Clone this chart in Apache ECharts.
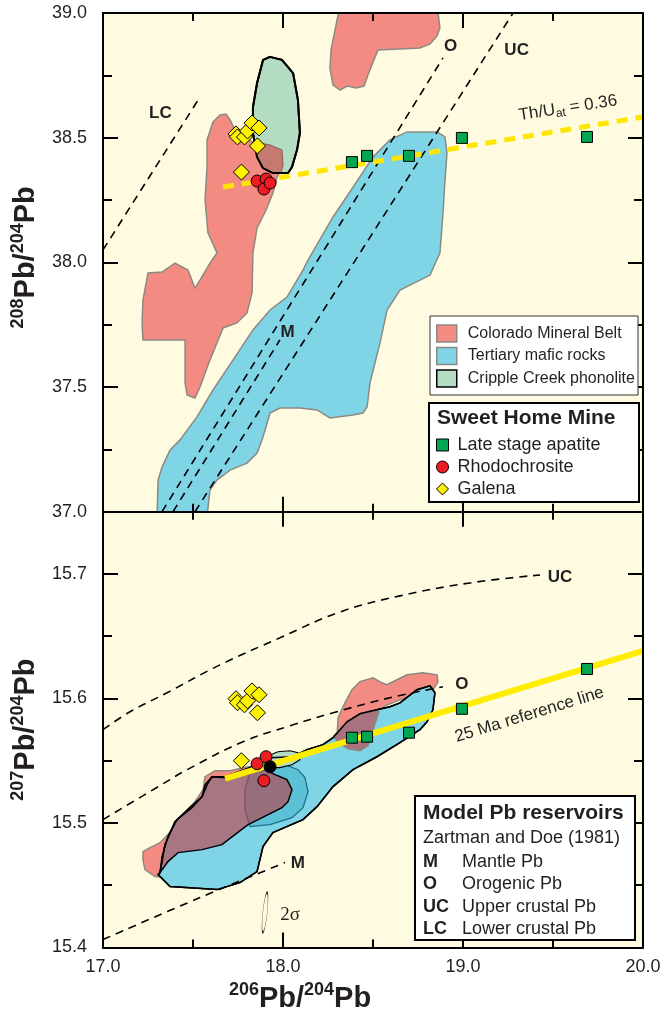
<!DOCTYPE html>
<html><head><meta charset="utf-8">
<script src="https://cdn.jsdelivr.net/npm/echarts@6/dist/echarts.min.js"></script>
<style>html,body{margin:0;padding:0;background:#fff}#c{width:667px;height:1014px}</style>
</head><body><div id="c"></div>
<script>
// ================= DATA =================
// axis tick labels
const xTickLabels = ['17.0', '18.0', '19.0', '20.0'];
const yTopTickLabels = ['37.0', '37.5', '38.0', '38.5', '39.0'];
const yBotTickLabels = ['15.4', '15.5', '15.6', '15.7'];

// Sweet Home Mine samples: 206Pb/204Pb, 208Pb/204Pb, 207Pb/204Pb
const apatite206 = [18.383, 18.467, 18.700, 18.994, 19.689];
const apatite208 = [38.402, 38.427, 38.427, 38.499, 38.503];
const apatite207 = [15.5685, 15.5693, 15.5725, 15.5917, 15.6237];

const rhodo206 = [17.856, 17.906, 17.894, 17.928];
const rhodo208 = [38.326, 38.334, 38.294, 38.318];
const rhodo206b = [17.856, 17.906, 17.894];
const rhodo207 = [15.5476, 15.5532, 15.5340];
const black206 = [17.928];
const black207 = [15.5452];

const galena206 = [17.739, 17.747, 17.769, 17.786, 17.803, 17.828, 17.858, 17.867];
const galena208 = [38.515, 38.503, 38.362, 38.503, 38.527, 38.559, 38.467, 38.539];
const galena207 = [15.5998, 15.5966, 15.5500, 15.5949, 15.5981, 15.6061, 15.5885, 15.6030];

// ---- upper panel fields (206/204, 208/204) ----
const cmbTopBlob = [[18.317,39.03],[18.289,38.932],[18.267,38.852],[18.261,38.779],[18.278,38.711],[18.317,38.691],[18.356,38.707],[18.406,38.699],[18.450,38.707],[18.472,38.751],[18.500,38.803],[18.528,38.852],[18.650,38.856],[18.761,38.860],[18.817,38.876],[18.856,38.908],[18.872,38.940],[18.856,39.03]];
const cmbTopMain = [[17.611,38.563],[17.650,38.591],[17.683,38.595],[17.706,38.571],[17.733,38.531],[17.828,38.483],[17.928,38.471],[17.994,38.451],[18.000,38.390],[17.967,38.342],[17.944,38.278],[17.906,38.210],[17.856,38.138],[17.833,38.038],[17.828,37.877],[17.800,37.797],[17.744,37.757],[17.667,37.737],[17.594,37.608],[17.539,37.500],[17.511,37.456],[17.467,37.468],[17.456,37.516],[17.456,37.689],[17.222,37.689],[17.217,37.757],[17.222,37.849],[17.250,37.957],[17.328,37.961],[17.400,37.997],[17.472,37.969],[17.511,37.897],[17.539,37.929],[17.594,37.997],[17.633,38.038],[17.583,38.118],[17.567,38.250],[17.578,38.382],[17.578,38.491]];
const mafTop = [[18.689,38.523],[18.856,38.523],[18.900,38.503],[18.911,38.439],[18.900,38.330],[18.889,38.198],[18.872,38.038],[18.817,37.949],[18.761,37.929],[18.650,37.889],[18.578,37.809],[18.539,37.677],[18.483,37.516],[18.467,37.420],[18.444,37.396],[18.389,37.388],[18.261,37.376],[18.189,37.408],[18.094,37.416],[17.983,37.416],[17.928,37.396],[17.889,37.300],[17.856,37.235],[17.800,37.195],[17.706,37.167],[17.633,37.127],[17.594,37.087],[17.578,36.98],[17.300,36.98],[17.306,37.127],[17.328,37.179],[17.372,37.247],[17.428,37.288],[17.522,37.380],[17.611,37.488],[17.722,37.608],[17.833,37.729],[17.928,37.809],[18.022,37.861],[18.111,37.969],[18.139,38.009],[18.278,38.182],[18.389,38.302],[18.500,38.423],[18.594,38.491]];
const ccpTop = [[17.928,38.824],[17.994,38.812],[18.056,38.759],[18.083,38.651],[18.094,38.519],[18.078,38.451],[18.050,38.382],[18.028,38.358],[17.944,38.358],[17.889,38.378],[17.856,38.423],[17.833,38.519],[17.833,38.623],[17.856,38.719],[17.889,38.812]];
const overlapTop = [[17.833,38.483],[17.928,38.471],[17.994,38.451],[18.000,38.390],[17.989,38.358],[17.944,38.358],[17.889,38.378],[17.856,38.423]];

// ---- lower panel fields (206/204, 207/204) ----
const cmbBotLeft = [[17.222,15.4770],[17.261,15.4802],[17.317,15.4842],[17.361,15.4907],[17.428,15.5043],[17.511,15.5171],[17.556,15.5268],[17.567,15.5372],[17.622,15.5420],[17.706,15.5420],[17.806,15.5452],[17.883,15.5468],[18.011,15.5444],[18.050,15.5308],[18.028,15.5147],[17.928,15.5067],[17.761,15.4947],[17.539,15.4802],[17.400,15.4722],[17.344,15.4562],[17.289,15.4570],[17.233,15.4626],[17.222,15.4706]];
const cmbBotRight = [[18.300,15.5693],[18.306,15.5845],[18.344,15.5965],[18.383,15.6070],[18.428,15.6134],[18.500,15.6166],[18.550,15.6126],[18.578,15.6110],[18.633,15.6150],[18.689,15.6190],[18.778,15.6206],[18.856,15.6190],[18.861,15.6134],[18.833,15.6070],[18.761,15.6046],[18.650,15.5989],[18.567,15.5941],[18.528,15.5893],[18.511,15.5813],[18.494,15.5725],[18.472,15.5629],[18.428,15.5588],[18.361,15.5604],[18.317,15.5653]];
const mafBot = [[17.317,15.4602],[17.344,15.4826],[17.400,15.5011],[17.483,15.5123],[17.550,15.5211],[17.578,15.5308],[17.606,15.5372],[17.678,15.5372],[17.817,15.5444],[17.928,15.5524],[18.056,15.5532],[18.133,15.5588],[18.222,15.5629],[18.278,15.5685],[18.356,15.5813],[18.428,15.5877],[18.522,15.5909],[18.594,15.5933],[18.650,15.5965],[18.744,15.6070],[18.817,15.6102],[18.844,15.6046],[18.833,15.5909],[18.800,15.5813],[18.761,15.5749],[18.650,15.5645],[18.522,15.5532],[18.389,15.5428],[18.278,15.5292],[18.189,15.5131],[18.111,15.5027],[17.944,15.4923],[17.889,15.4810],[17.856,15.4610],[17.761,15.4521],[17.633,15.4465],[17.372,15.4489],[17.306,15.4586]];
const mafBotInner = [[17.817,15.5412],[17.900,15.5444],[18.011,15.5468],[18.083,15.5428],[18.122,15.5364],[18.139,15.5251],[18.111,15.5123],[18.050,15.5043],[17.928,15.4987],[17.817,15.4971],[17.789,15.5107],[17.789,15.5268]];
const overlapBotLeft = [[17.678,15.5364],[17.817,15.5444],[17.900,15.5428],[17.956,15.5388],[18.022,15.5348],[18.050,15.5268],[18.028,15.5171],[17.994,15.5123],[17.917,15.5067],[17.806,15.4987],[17.733,15.4907],[17.661,15.4826],[17.550,15.4786],[17.417,15.4762],[17.361,15.4690],[17.317,15.4602],[17.328,15.4730],[17.361,15.4891],[17.411,15.5027],[17.494,15.5123],[17.550,15.5211],[17.567,15.5308],[17.606,15.5372]];
const overlapBotRight = [[18.283,15.5701],[18.294,15.5669],[18.317,15.5637],[18.361,15.5596],[18.428,15.5580],[18.472,15.5620],[18.494,15.5709],[18.511,15.5797],[18.533,15.5893],[18.522,15.5909],[18.428,15.5877],[18.356,15.5813]];
const ccpBot = [[17.917,15.5540],[17.972,15.5572],[18.039,15.5580],[18.083,15.5564],[18.094,15.5508],[18.050,15.5468],[17.983,15.5444],[17.928,15.5444]];

// ---- model Pb growth curves (Zartman and Doe 1981) ----
const lcTop = [[17.0, 38.05], [17.539, 38.663]];
const oTop = [[17.328, 37.0], [18.889, 38.820]];
const ucTop = [[17.511, 37.0], [19.278, 39.0]];
const mTop = [[17.389, 37.0], [17.983, 37.689]];
const ucBot = [[17.0,15.5749],[17.15,15.5893],[17.356,15.6046],[17.65,15.6270],[17.983,15.6487],[18.317,15.6695],[18.65,15.6824],[19.039,15.6928],[19.428,15.6992]];
const oBot = [[17.0,15.5027],[17.344,15.5324],[17.467,15.5428],[17.778,15.5653],[18.039,15.5781],[18.278,15.5885],[18.594,15.6006],[18.889,15.6094]];
const mBot = [[17.0,15.4064],[17.539,15.4401],[18.011,15.4682]];

// reference lines
const thuLine = [[17.667, 38.302], [20.0, 38.583]];
const refLine25 = [[17.678, 15.5356], [20.0, 15.6383]];

// annotations (anchor in data units)
const topLabelText = ['LC', 'O', 'UC', 'M'];
const topLabelPos = [[17.319, 38.596], [18.931, 38.865], [19.298, 38.849], [18.025, 37.719]];
const thuLabelPos = [[19.583, 38.619]];
const botLabelText = ['UC', 'O', 'M'];
const botLabelPos = [[19.539, 15.6976], [18.994, 15.6110], [18.083, 15.4674]];
const refLabelPos = [[19.369, 15.5869]];
const sigmaPos = [[17.900, 15.4281]];
const sigmaLabelPos = [[18.039, 15.4257]];

const reservoirCodes = ['M', 'O', 'UC', 'LC'];
const reservoirNames = ['Mantle Pb', 'Orogenic Pb', 'Upper crustal Pb', 'Lower crustal Pb'];

// ================= STYLE =================
const FONT = '"Liberation Sans", Arial, Helvetica, sans-serif';
const INK = '#231f20';
const CREAM = '#fffbe1';
const SALMON = '#f48b82';
const BLUE = '#7fd4e6';
const GREEN = '#b4dcc2';
const OVERLAP_TOP = '#c47a70';
const FIELD_EDGE = '#8a8a82';
const TEAL = '#5cc0d6';
const TEAL_EDGE = '#1d6f8c';
const MAUVE = 'rgba(190,60,70,0.62)';
const MAUVE_SOLID = '#a8727f';
const C_AP = '#00a651', C_RH = '#ed1c24', C_GA = '#fff200';

function poly(name, xi, yi, pts, style, z) {
  return { type: 'custom', name, xAxisIndex: xi, yAxisIndex: yi, data: pts, z, silent: true, clip: true,
    renderItem(params, api) {
      if (params.dataIndex !== 0) return null;
      return { type: 'polygon', shape: { points: pts.map(p => api.coord(p)) }, style: Object.assign({}, style) };
    } };
}
function line(name, xi, yi, data, ls, z, smooth) {
  return { type: 'line', name, xAxisIndex: xi, yAxisIndex: yi, data, symbol: 'none', showSymbol: false,
    silent: true, z, smooth: smooth || false, clip: true, lineStyle: ls };
}
function scat(name, xi, yi, xs, ys, symbol, size, color, z) {
  return { type: 'scatter', name, xAxisIndex: xi, yAxisIndex: yi, data: xs.map((x, i) => [x, ys[i]]),
    symbol, symbolSize: size, z, silent: true,
    itemStyle: { color, borderColor: '#000', borderWidth: 1, opacity: 1 } };
}
function texts(name, xi, yi, pos, txt, style, rot) {
  return { type: 'custom', name, xAxisIndex: xi, yAxisIndex: yi, data: pos, z: 4, silent: true, clip: false,
    renderItem(params, api) {
      const p = api.coord([api.value(0), api.value(1)]);
      return { type: 'text', x: p[0], y: p[1], rotation: rot || 0,
        style: Object.assign({ text: txt[params.dataIndex], fill: INK, align: 'center', verticalAlign: 'middle',
          fontFamily: FONT, fontSize: 17, fontWeight: 'bold' }, style) };
    } };
}
const dash = { color: '#000', width: 1.6, type: [8, 6] };

function xAx(grid, pos, showLabel) {
  return { type: 'value', gridIndex: grid, position: pos, min: 17, max: 20, interval: 1, z: 5,
    axisLine: { show: true, onZero: false, lineStyle: { color: '#000', width: 2 } },
    axisTick: { show: true, inside: true, length: 15, lineStyle: { color: '#000', width: 2 } },
    minorTick: { show: true, splitNumber: 2, length: 8, lineStyle: { color: '#000', width: 2 } },
    splitLine: { show: false }, minorSplitLine: { show: false },
    axisLabel: { show: showLabel, margin: 11, fontSize: 18, fontFamily: FONT, color: INK,
      showMinLabel: true, showMaxLabel: true,
      formatter: v => xTickLabels[Math.round(v - 17)] || '' } };
}
function yAx(grid, pos, min, max, interval, tickLen, showLabel, labels, minor, lineShow) {
  return { type: 'value', gridIndex: grid, position: pos, min, max, interval, z: 5,
    axisLine: { show: lineShow, onZero: false, lineStyle: { color: '#000', width: 2 } },
    axisTick: { show: true, inside: true, length: tickLen, lineStyle: { color: '#000', width: 2 } },
    minorTick: { show: !!minor, splitNumber: 2, length: 9, lineStyle: { color: '#000', width: 2 } },
    splitLine: { show: false }, minorSplitLine: { show: false },
    axisLabel: { show: showLabel, margin: 16, fontSize: 18, fontFamily: FONT, color: INK,
      showMinLabel: true, showMaxLabel: true,
      formatter: v => { const s = v.toFixed(1); return labels && labels.indexOf(s) >= 0 && Math.abs(v - parseFloat(s)) < 1e-6 ? s : ''; } } };
}
const richName = {
  sup: { fontSize: 18, fontWeight: 'bold', fontFamily: FONT, color: INK, lineHeight: 18, verticalAlign: 'top' },
  b: { fontSize: 29, fontWeight: 'bold', fontFamily: FONT, color: INK, lineHeight: 34 }
};

const y0 = yAx(0, 'left', 37, 39, 0.5, 15, true, yTopTickLabels, true, true);
Object.assign(y0, { name: '{sup|208}{b|Pb/}{sup|204}{b|Pb}', nameLocation: 'middle', nameGap: 60, nameRotate: 90,
  nameTextStyle: { rich: richName, padding: [0, 0, 0, 10] } });
const y2 = yAx(1, 'left', 15.4, 15.75, 0.1, 15, true, yBotTickLabels, false, true);
Object.assign(y2, { name: '{sup|207}{b|Pb/}{sup|204}{b|Pb}', nameLocation: 'middle', nameGap: 60, nameRotate: 90,
  nameTextStyle: { rich: richName } });
y2.axisLabel.showMaxLabel = false;
const x2 = xAx(1, 'bottom', true);
Object.assign(x2, { name: '{sup|206}{b|Pb/}{sup|204}{b|Pb}', nameLocation: 'middle', nameGap: 34,
  nameTextStyle: { rich: richName, padding: [0, 146, 0, 0] } });

const series = [
  // ---------- upper panel ----------
  poly('Colorado Mineral Belt', 0, 0, cmbTopBlob, { fill: SALMON, stroke: FIELD_EDGE, lineWidth: 1.5 }, 1),
  poly('Colorado Mineral Belt', 0, 0, cmbTopMain, { fill: SALMON, stroke: FIELD_EDGE, lineWidth: 1.5 }, 1.01),
  poly('Tertiary mafic rocks', 0, 0, mafTop, { fill: BLUE, stroke: FIELD_EDGE, lineWidth: 1.5 }, 1.02),
  poly('Cripple Creek phonolite', 0, 0, ccpTop, { fill: GREEN, stroke: '#000', lineWidth: 2 }, 1.03),
  poly('Phonolite / CMB overlap', 0, 0, overlapTop, { fill: OVERLAP_TOP, stroke: '#8d5a52', lineWidth: 1 }, 1.04),
  poly('Phonolite outline', 0, 0, ccpTop, { fill: 'none', stroke: '#000', lineWidth: 2 }, 1.05),
  line('LC curve', 0, 0, lcTop, dash, 2),
  line('O curve', 0, 0, oTop, dash, 2),
  line('UC curve', 0, 0, ucTop, dash, 2),
  line('M curve', 0, 0, mTop, dash, 2),
  line('Th/U 0.36', 0, 0, thuLine, { color: '#ffe600', width: 5, type: [11, 8] }, 2.5),
  scat('Late stage apatite', 0, 0, apatite206, apatite208, 'rect', 11, C_AP, 3),
  scat('Rhodochrosite', 0, 0, rhodo206, rhodo208, 'circle', 12, C_RH, 3),
  scat('Galena', 0, 0, galena206, galena208, 'diamond', 16, C_GA, 3.1),
  texts('top labels', 0, 0, topLabelPos, topLabelText, {}),
  texts('thu label', 0, 0, thuLabelPos, ['{a|Th/U}{s|at}{a| = 0.36}'], {
    fontWeight: 'normal',
    rich: { a: { fontSize: 17, fontFamily: FONT, fill: INK, lineHeight: 20 },
            s: { fontSize: 12, fontFamily: FONT, fill: INK, lineHeight: 12, verticalAlign: 'bottom' } } }, 0.152),
  // ---------- lower panel ----------
  poly('Colorado Mineral Belt', 2, 2, cmbBotLeft, { fill: SALMON, stroke: FIELD_EDGE, lineWidth: 1.5 }, 1),
  poly('Colorado Mineral Belt', 2, 2, cmbBotRight, { fill: SALMON, stroke: FIELD_EDGE, lineWidth: 1.5 }, 1.01),
  poly('Tertiary mafic rocks', 2, 2, mafBot, { fill: BLUE, stroke: '#000', lineWidth: 1.5 }, 1.02),
  poly('Tertiary mafic inner field', 2, 2, mafBotInner, { fill: TEAL, stroke: TEAL_EDGE, lineWidth: 1.3 }, 1.03),
  poly('Overlap field', 2, 2, overlapBotLeft, { fill: MAUVE, stroke: '#000', lineWidth: 1.5 }, 1.04),
  poly('Cripple Creek phonolite', 2, 2, ccpBot, { fill: GREEN, stroke: '#000', lineWidth: 1.2 }, 1.05),
  poly('Overlap field right', 2, 2, overlapBotRight, { fill: MAUVE_SOLID, stroke: FIELD_EDGE, lineWidth: 1.5 }, 1.06),
  poly('Tertiary mafic outline', 2, 2, mafBot, { fill: 'none', stroke: '#000', lineWidth: 1.5 }, 1.07),
  line('UC curve b', 2, 2, ucBot, dash, 2, 0.4),
  line('O curve b', 2, 2, oBot, dash, 2, 0.4),
  line('M curve b', 2, 2, mBot, dash, 2, 0.4),
  line('25 Ma reference line', 2, 2, refLine25, { color: '#ffed00', width: 6, type: 'solid' }, 2.5),
  scat('Late stage apatite', 2, 2, apatite206, apatite207, 'rect', 11, C_AP, 3),
  scat('Rhodochrosite', 2, 2, rhodo206b, rhodo207, 'circle', 12, C_RH, 3),
  scat('Black point', 2, 2, black206, black207, 'circle', 12, '#000', 3.05),
  scat('Galena', 2, 2, galena206, galena207, 'diamond', 16, C_GA, 3.1),
  { type: 'scatter', name: '2 sigma', xAxisIndex: 2, yAxisIndex: 2, data: sigmaPos, z: 3, silent: true,
    symbol: 'path://M0,1A1,1,0,1,0,2,1A1,1,0,1,0,0,1Z', symbolSize: [4.4, 40], symbolRotate: -6, symbolKeepAspect: false,
    itemStyle: { color: 'rgba(0,0,0,0)', borderColor: '#000', borderWidth: 1 } },
  texts('bottom labels', 2, 2, botLabelPos, botLabelText, {}),
  texts('ref label', 2, 2, refLabelPos, ['25 Ma reference line'], { fontWeight: 'normal', fontSize: 17 }, 0.297),
  texts('sigma label', 2, 2, sigmaLabelPos, ['2σ'], { fontWeight: 'normal', fontSize: 19, fontFamily: '"Liberation Serif", "DejaVu Serif", serif' })
];

const gtext = (x, y, t, size, bold) => ({ type: 'text', z: 30, x, y,
  style: { text: t, fill: INK, fontSize: size, fontWeight: bold ? 'bold' : 'normal', fontFamily: FONT,
    verticalAlign: 'middle', textVerticalAlign: 'middle', align: 'left', textAlign: 'left' } });

const graphic = [
  { type: 'rect', z: 20, shape: { x: 430, y: 316, width: 208, height: 79 }, style: { fill: '#fff', stroke: '#333', lineWidth: 1 } },
  { type: 'rect', z: 20, shape: { x: 429, y: 403, width: 210, height: 99 }, style: { fill: '#fff', stroke: '#000', lineWidth: 2 } },
  gtext(437, 418, 'Sweet Home Mine', 21, true),
  { type: 'rect', z: 20, shape: { x: 415, y: 796, width: 220, height: 144 }, style: { fill: '#fff', stroke: '#000', lineWidth: 2 } },
  gtext(423, 813, 'Model Pb reservoirs', 21, true),
  gtext(423, 838, 'Zartman and Doe (1981)', 18, false)
];
reservoirCodes.forEach((c, i) => {
  graphic.push(gtext(423, 862 + i * 22.5, c, 18, true));
  graphic.push(gtext(462, 862 + i * 22.5, reservoirNames[i], 18, false));
});

const option = {
  animation: false,
  backgroundColor: '#fff',
  grid: [
    { left: 103, top: 13, width: 540, height: 498.7, show: true, backgroundColor: CREAM, borderWidth: 0 },
    { left: 103, top: 511.7, width: 540, height: 436.3, show: true, backgroundColor: CREAM, borderWidth: 0 }
  ],
  xAxis: [xAx(0, 'bottom', false), xAx(0, 'top', false), x2, xAx(1, 'top', false)],
  yAxis: [
    y0,
    yAx(0, 'right', 37, 39, 0.5, 15, false, null, true, true),
    y2,
    yAx(1, 'left', 15.4, 15.75, 0.05, 9, false, null, false, false),
    yAx(1, 'right', 15.4, 15.75, 0.1, 15, false, null, false, true),
    yAx(1, 'right', 15.4, 15.75, 0.05, 9, false, null, false, false)
  ],
  legend: [
    { z: 30, orient: 'vertical', left: 436, top: 322.5, itemWidth: 20, itemHeight: 17, itemGap: 0.5, padding: 0,
      selectedMode: false, textStyle: { fontSize: 16, fontFamily: FONT, color: INK, lineHeight: 22, padding: [0, 0, 0, 6] },
      data: [
        { name: 'Colorado Mineral Belt', icon: 'rect', itemStyle: { color: SALMON, borderColor: FIELD_EDGE, borderWidth: 1.5 } },
        { name: 'Tertiary mafic rocks', icon: 'rect', itemStyle: { color: BLUE, borderColor: FIELD_EDGE, borderWidth: 1.5 } },
        { name: 'Cripple Creek phonolite', icon: 'rect', itemStyle: { color: GREEN, borderColor: '#000', borderWidth: 1.5 } }
      ] },
    { z: 30, orient: 'vertical', left: 436, top: 434, itemWidth: 12, itemHeight: 12, itemGap: 0, padding: 0,
      selectedMode: false, textStyle: { fontSize: 18, fontFamily: FONT, color: INK, lineHeight: 22, padding: [0, 0, 0, 4] },
      data: [
        { name: 'Late stage apatite', icon: 'rect', itemStyle: { color: C_AP, borderColor: '#000', borderWidth: 1 } },
        { name: 'Rhodochrosite', icon: 'circle', itemStyle: { color: C_RH, borderColor: '#000', borderWidth: 1 } },
        { name: 'Galena', icon: 'diamond', itemStyle: { color: C_GA, borderColor: '#000', borderWidth: 1 } }
      ] }
  ],
  graphic,
  series
};
const chart = echarts.init(document.getElementById('c'), null, { renderer: 'canvas' });
chart.setOption(option);
</script>
</body></html>
